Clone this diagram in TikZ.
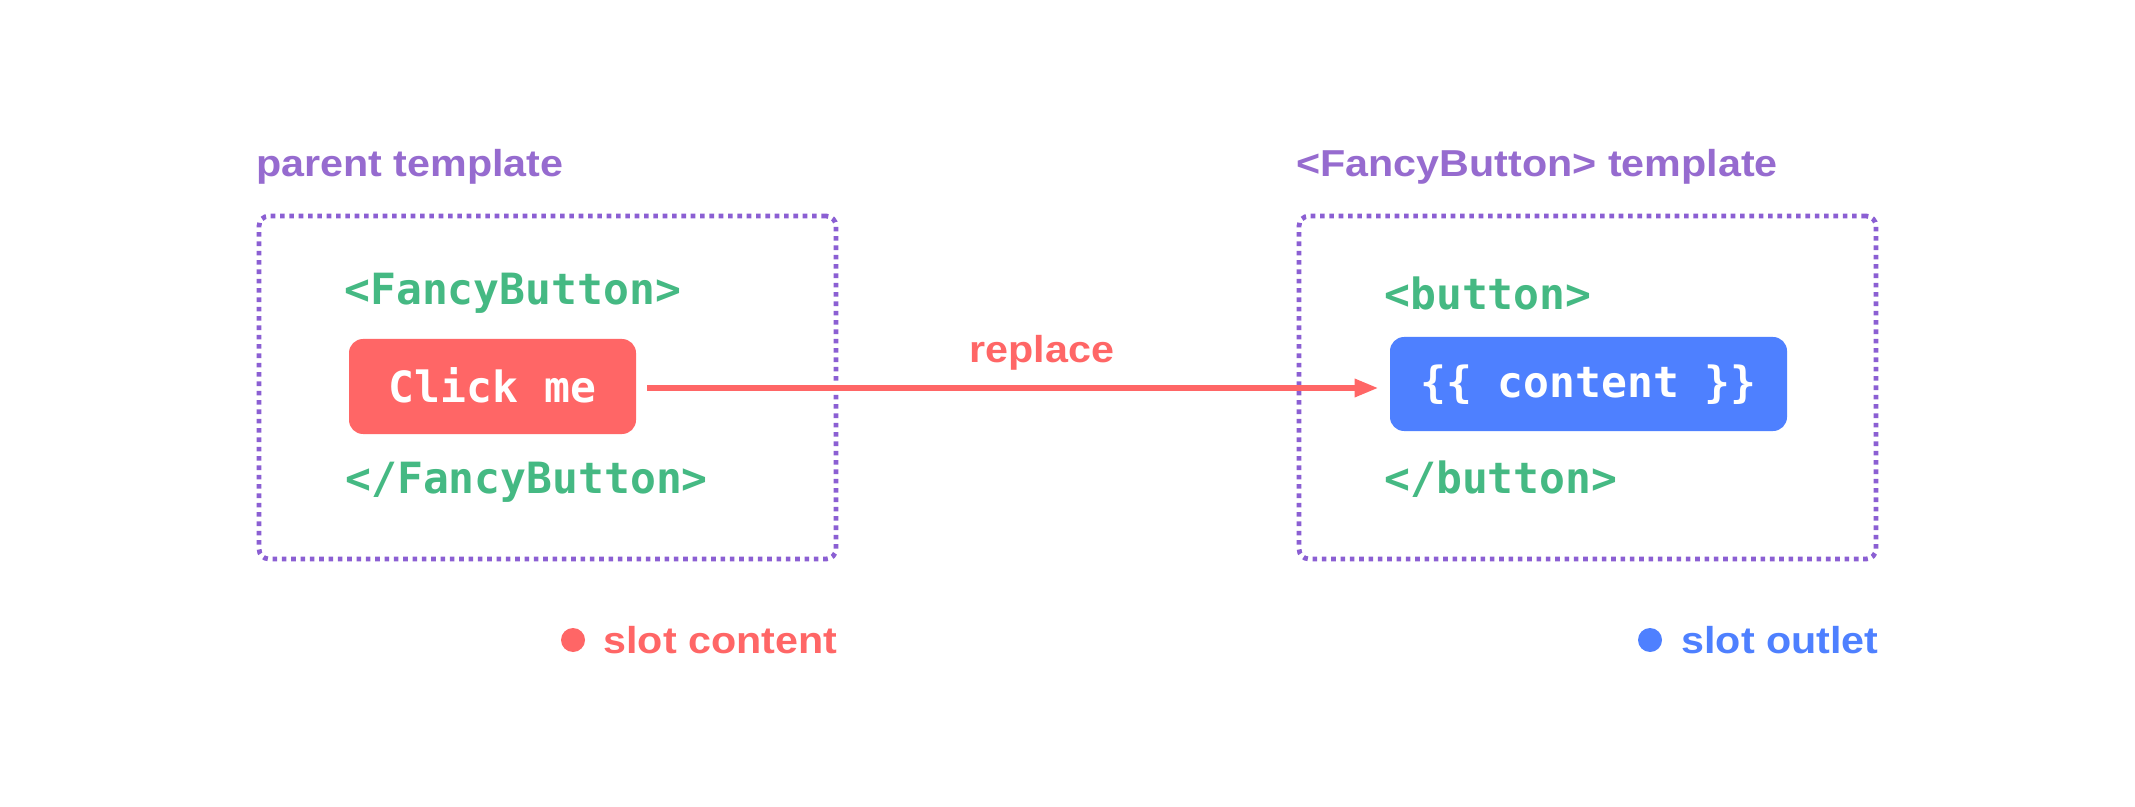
\documentclass[tikz,border=0pt]{standalone}
\usepackage{fontspec}
\usetikzlibrary{arrows.meta}
\newfontfamily\codefont{DejaVu Sans Mono Bold}
\newfontfamily\lblfont{Liberation Sans Bold}[FakeStretch=1.1]
\definecolor{vpurple}{HTML}{966BCF}
\definecolor{vframe}{HTML}{8B5FD3}
\definecolor{vgreen}{HTML}{45B983}
\definecolor{vred}{HTML}{FF6666}
\definecolor{vblue}{HTML}{4E80FF}
\tikzset{
  frame/.style={draw=vframe, line width=2.4pt, dash pattern=on 2.3pt off 2.367pt,
    rounded corners=5pt, minimum width=288.5pt, minimum height=171.5pt, inner sep=0pt},
  codetext/.style={text=vgreen, inner sep=0pt, anchor=base west,
    font=\codefont\fontsize{21.5}{26}\selectfont},
  lbltext/.style={text=vpurple, inner sep=0pt, anchor=base west,
    font=\lblfont\fontsize{18.75}{22}\selectfont},
  legtext/.style={inner sep=0pt, anchor=base west,
    font=\lblfont\fontsize{18.75}{22}\selectfont},
  btn/.style={rounded corners=7pt, inner sep=0pt, text=white,
    font=\codefont\fontsize{21.5}{26}\selectfont, text height=16.35pt},
  legdot/.style={circle, inner sep=0pt, minimum size=12pt},
}
\begin{document}
\begin{tikzpicture}[x=0.5pt, y=-0.5pt]
\useasboundingbox (0,0) rectangle (2135,807);
\fill[white] (0,0) rectangle (2135,807);
% frames
\node[frame] (lframe) at (547.5,387.5) {};
\node[frame] (rframe) at (1587.5,387.5) {};
% titles
\node[lbltext] (ltitle) at (256,177) {parent template};
\node[lbltext] (rtitle) at (1296,177) {<FancyButton> template};
% left content
\node[codetext] (fbopen) at (344,305) {<FancyButton>};
\node[btn, fill=vred, minimum width=143.5pt, minimum height=47.5pt, text depth=0pt] (click) at (492.5,386.5) {Click me};
\node[codetext] (fbclose) at (345,493) {</FancyButton>};
% right content
\node[codetext] (bopen) at (1384,310) {<button>};
\node[btn, fill=vblue, minimum width=198.5pt, minimum height=47pt, text depth=3.2pt] (outlet) at (1588.5,384) {\{\{ content \}\}};
\node[codetext] (bclose) at (1384,493) {</button>};
% arrow
\draw[vred, line width=3pt, -{Triangle[length=12pt, width=8.5pt]}, shorten <=5.5pt, shorten >=5.5pt]
  ([yshift=-0.75pt]click.east) -- ([yshift=-0.75pt]click.east -| outlet.west);
\node[legtext, text=vred, anchor=base] (replace) at (1042,363) {replace};
% legend
\node[legdot, fill=vred] (reddot) at (573,640) {};
\node[legtext, text=vred] (slotcontent) at (603,653) {slot content};
\node[legdot, fill=vblue] (bluedot) at (1650,640) {};
\node[legtext, text=vblue] (slotoutlet) at (1681,653) {slot outlet};
\end{tikzpicture}
\end{document}
